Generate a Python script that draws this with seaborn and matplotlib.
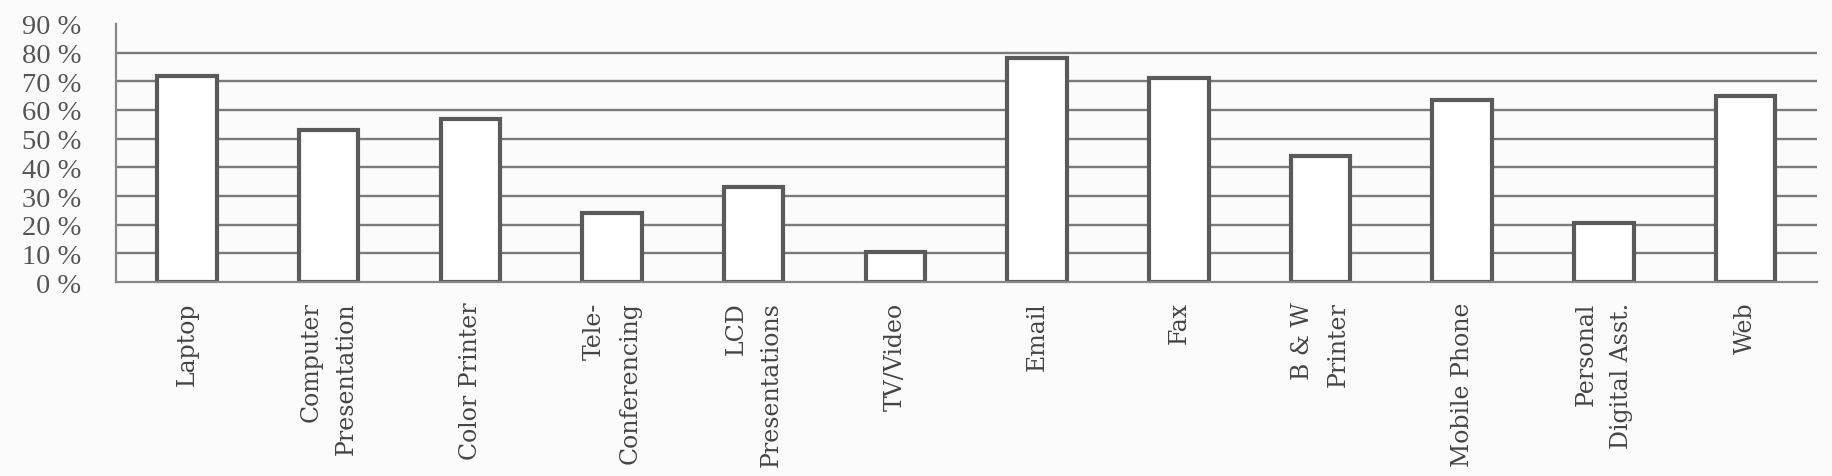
import matplotlib
matplotlib.use("Agg")
import matplotlib.pyplot as plt
import seaborn as sns
import pandas as pd
import numpy as np

categories = ["Laptop", "Computer\nPresentation", "Color Printer", "Tele-\nConferencing",
              "LCD\nPresentations", "TV/Video", "Email", "Fax", "B & W\nPrinter",
              "Mobile Phone", "Personal\nDigital Asst.", "Web"]
values = [0.72, 0.53, 0.57, 0.24, 0.33, 0.105, 0.78, 0.71, 0.44, 0.635, 0.205, 0.65]
y_ticks = [0.0, 0.1, 0.2, 0.3, 0.4, 0.5, 0.6, 0.7, 0.8, 0.9]
y_tick_labels = ["0 %", "10 %", "20 %", "30 %", "40 %", "50 %", "60 %", "70 %", "80 %", "90 %"]

sns.set_style("white")
plt.rcParams["font.family"] = ["Liberation Serif", "DejaVu Serif"]

df = pd.DataFrame({"category": categories, "value": values})

fig = plt.figure(figsize=(18.33, 4.77), dpi=100, facecolor="#fbfbfb")
ax = fig.add_axes([0.0633, 0.4067, 0.991 - 0.0633, 0.9476 - 0.4067])
ax.set_facecolor("#fbfbfb")

sns.barplot(data=df, x="category", y="value", color="white", edgecolor="#5a5a5a",
            linewidth=3.0, width=0.42, ax=ax, saturation=1)

ax.set_xlim(-0.5, len(categories) - 0.5)
ax.set_ylim(0, 0.9)
ax.set_yticks(y_ticks)
ax.set_yticklabels(y_tick_labels, fontsize=20.5, color="#555555")
ax.set_xlabel("")
ax.set_ylabel("")

ax.set_xticks(range(len(categories)))
ax.set_xticklabels(categories, rotation=90, fontsize=17, family="DejaVu Serif",
                   color="#444444", va="top", ha="center", multialignment="right",
                   linespacing=1.7)
ax.set_xticks(np.arange(-0.5, len(categories), 1.0), minor=True)
ax.tick_params(axis="x", which="major", length=0, pad=14)
ax.tick_params(axis="x", which="minor", length=6, width=1.4, color="#888888", direction="out")
ax.tick_params(axis="y", which="major", length=7, width=1.4, color="#888888",
               direction="out", pad=18)

ax.yaxis.grid(True, color="#7a7a7a", linewidth=1.7)
ax.set_axisbelow(True)
for sp in ["top", "right"]:
    ax.spines[sp].set_visible(False)
for sp in ["left", "bottom"]:
    ax.spines[sp].set_color("#888888")
    ax.spines[sp].set_linewidth(1.6)

fig.canvas.draw()
gl = ax.yaxis.get_gridlines()
gl[0].set_visible(False)
gl[-1].set_visible(False)

fig.savefig("out.png", dpi=100, facecolor=fig.get_facecolor())
